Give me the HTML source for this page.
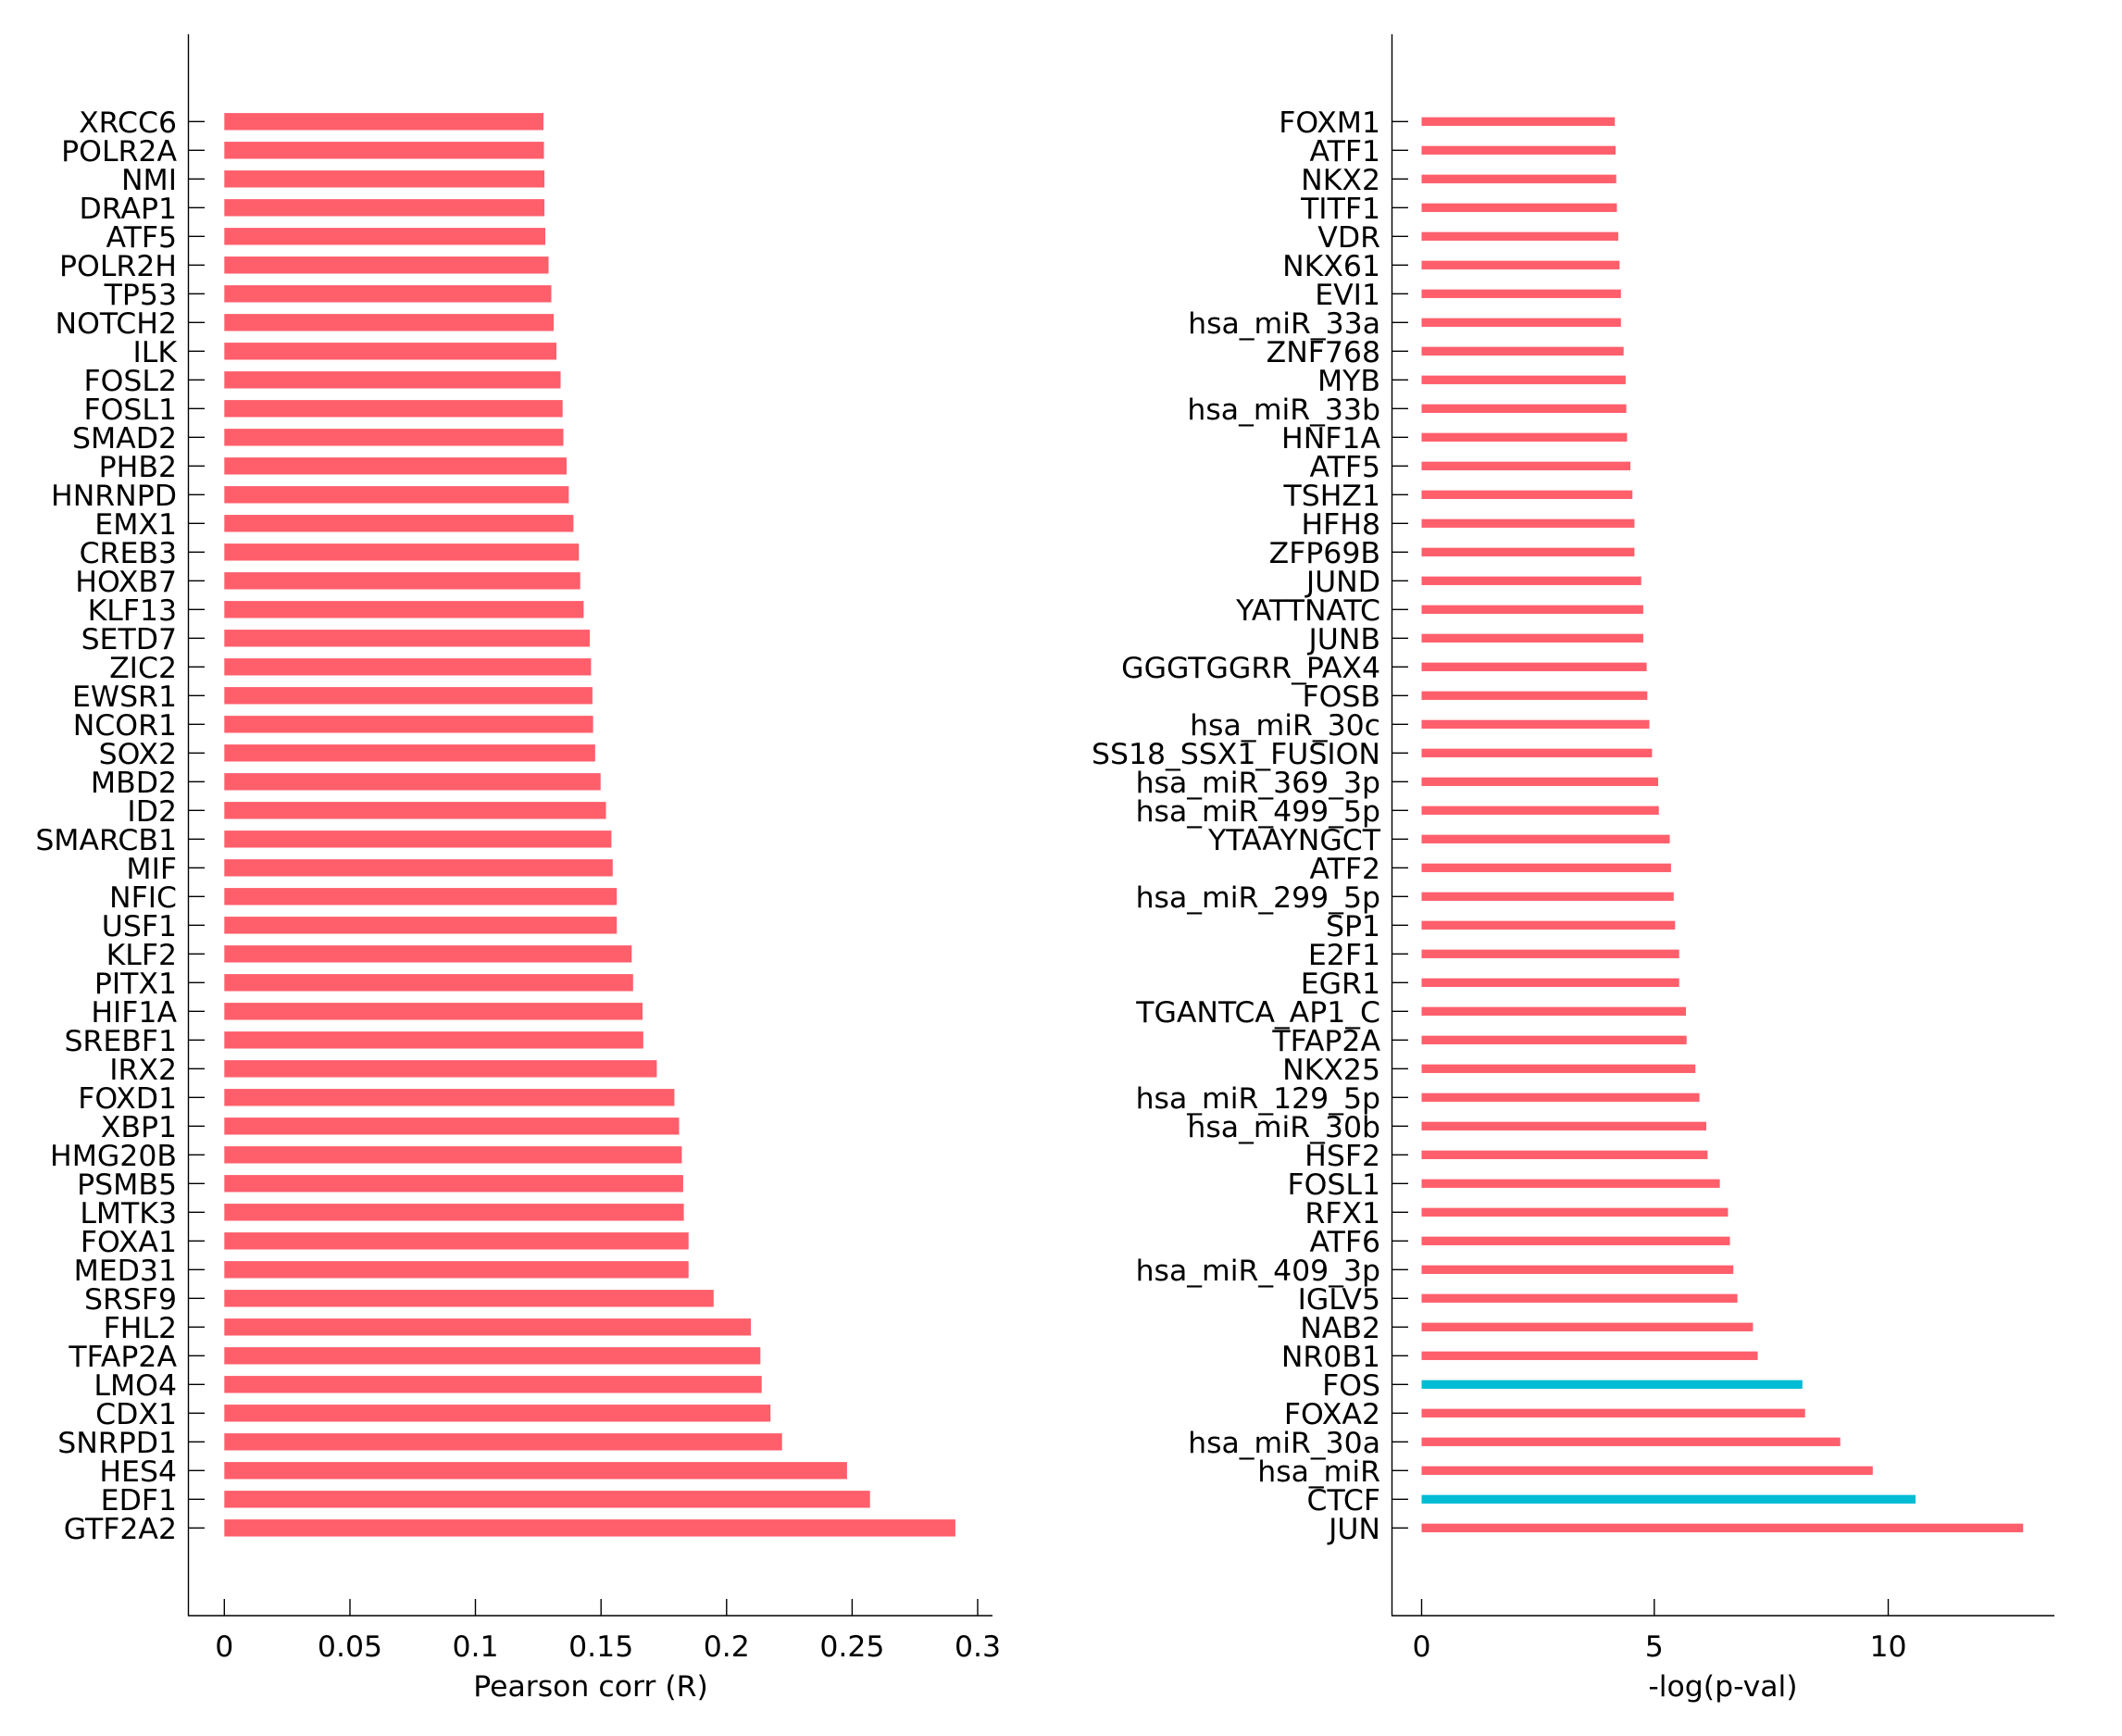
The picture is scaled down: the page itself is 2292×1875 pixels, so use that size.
<!DOCTYPE html>
<html>
<head>
<meta charset="utf-8">
<style>
html,body{margin:0;padding:0;background:#fff;}
svg{display:block;}
text{font-family:"DejaVu Sans","Liberation Sans",sans-serif;font-size:31.5px;fill:#000;}
.l text{text-anchor:end;}
.l rect{fill:#ff5e6b;}
.r text{text-anchor:end;}
.r rect{fill:#ff5e6b;}
.r rect.c{fill:#00bcd4;}
.tk{stroke:#000;stroke-width:1.4;}
</style>
</head>
<body>
<svg width="2292" height="1875" viewBox="0 0 2292 1875" xmlns="http://www.w3.org/2000/svg">
<rect width="2292" height="1875" fill="#fff"/>

<!-- LEFT PANEL axes -->
<line class="tk" x1="203.5" y1="37" x2="203.5" y2="1745.5"/>
<line class="tk" x1="203" y1="1745" x2="1072" y2="1745"/>
<g class="tk">
<line x1="242.3" y1="1727" x2="242.3" y2="1745"/>
<line x1="378" y1="1727" x2="378" y2="1745"/>
<line x1="513.5" y1="1727" x2="513.5" y2="1745"/>
<line x1="649.2" y1="1727" x2="649.2" y2="1745"/>
<line x1="784.8" y1="1727" x2="784.8" y2="1745"/>
<line x1="920.4" y1="1727" x2="920.4" y2="1745"/>
<line x1="1056" y1="1727" x2="1056" y2="1745"/>
</g>
<g style="text-anchor:middle">
<text x="242.3" y="1789" text-anchor="middle">0</text>
<text x="378" y="1789" text-anchor="middle">0.05</text>
<text x="513.5" y="1789" text-anchor="middle">0.1</text>
<text x="649.2" y="1789" text-anchor="middle">0.15</text>
<text x="784.8" y="1789" text-anchor="middle">0.2</text>
<text x="920.4" y="1789" text-anchor="middle">0.25</text>
<text x="1056" y="1789" text-anchor="middle">0.3</text>
<text x="638" y="1832" text-anchor="middle">Pearson corr (R)</text>
</g>

<g class="l">
<g transform="translate(0,131.3)"><rect x="242.3" y="-9.2" width="344.7" height="18.4"/><line class="tk" x1="203.5" x2="221" y1="0" y2="0"/><text x="191" y="11.8">XRCC6</text></g>
<g transform="translate(0,162.3)"><rect x="242.3" y="-9.2" width="345.2" height="18.4"/><line class="tk" x1="203.5" x2="221" y1="0" y2="0"/><text x="191" y="11.8">POLR2A</text></g>
<g transform="translate(0,193.3)"><rect x="242.3" y="-9.2" width="345.7" height="18.4"/><line class="tk" x1="203.5" x2="221" y1="0" y2="0"/><text x="191" y="11.8">NMI</text></g>
<g transform="translate(0,224.3)"><rect x="242.3" y="-9.2" width="345.7" height="18.4"/><line class="tk" x1="203.5" x2="221" y1="0" y2="0"/><text x="191" y="11.8">DRAP1</text></g>
<g transform="translate(0,255.3)"><rect x="242.3" y="-9.2" width="346.7" height="18.4"/><line class="tk" x1="203.5" x2="221" y1="0" y2="0"/><text x="191" y="11.8">ATF5</text></g>
<g transform="translate(0,286.3)"><rect x="242.3" y="-9.2" width="350.2" height="18.4"/><line class="tk" x1="203.5" x2="221" y1="0" y2="0"/><text x="191" y="11.8">POLR2H</text></g>
<g transform="translate(0,317.3)"><rect x="242.3" y="-9.2" width="353.2" height="18.4"/><line class="tk" x1="203.5" x2="221" y1="0" y2="0"/><text x="191" y="11.8">TP53</text></g>
<g transform="translate(0,348.3)"><rect x="242.3" y="-9.2" width="355.7" height="18.4"/><line class="tk" x1="203.5" x2="221" y1="0" y2="0"/><text x="191" y="11.8">NOTCH2</text></g>
<g transform="translate(0,379.3)"><rect x="242.3" y="-9.2" width="358.7" height="18.4"/><line class="tk" x1="203.5" x2="221" y1="0" y2="0"/><text x="191" y="11.8">ILK</text></g>
<g transform="translate(0,410.3)"><rect x="242.3" y="-9.2" width="363.2" height="18.4"/><line class="tk" x1="203.5" x2="221" y1="0" y2="0"/><text x="191" y="11.8">FOSL2</text></g>
<g transform="translate(0,441.3)"><rect x="242.3" y="-9.2" width="365.4" height="18.4"/><line class="tk" x1="203.5" x2="221" y1="0" y2="0"/><text x="191" y="11.8">FOSL1</text></g>
<g transform="translate(0,472.3)"><rect x="242.3" y="-9.2" width="366.2" height="18.4"/><line class="tk" x1="203.5" x2="221" y1="0" y2="0"/><text x="191" y="11.8">SMAD2</text></g>
<g transform="translate(0,503.3)"><rect x="242.3" y="-9.2" width="369.7" height="18.4"/><line class="tk" x1="203.5" x2="221" y1="0" y2="0"/><text x="191" y="11.8">PHB2</text></g>
<g transform="translate(0,534.3)"><rect x="242.3" y="-9.2" width="372" height="18.4"/><line class="tk" x1="203.5" x2="221" y1="0" y2="0"/><text x="191" y="11.8">HNRNPD</text></g>
<g transform="translate(0,565.3)"><rect x="242.3" y="-9.2" width="377.1" height="18.4"/><line class="tk" x1="203.5" x2="221" y1="0" y2="0"/><text x="191" y="11.8">EMX1</text></g>
<g transform="translate(0,596.3)"><rect x="242.3" y="-9.2" width="383" height="18.4"/><line class="tk" x1="203.5" x2="221" y1="0" y2="0"/><text x="191" y="11.8">CREB3</text></g>
<g transform="translate(0,627.3)"><rect x="242.3" y="-9.2" width="384.4" height="18.4"/><line class="tk" x1="203.5" x2="221" y1="0" y2="0"/><text x="191" y="11.8">HOXB7</text></g>
<g transform="translate(0,658.3)"><rect x="242.3" y="-9.2" width="388.1" height="18.4"/><line class="tk" x1="203.5" x2="221" y1="0" y2="0"/><text x="191" y="11.8">KLF13</text></g>
<g transform="translate(0,689.3)"><rect x="242.3" y="-9.2" width="394.7" height="18.4"/><line class="tk" x1="203.5" x2="221" y1="0" y2="0"/><text x="191" y="11.8">SETD7</text></g>
<g transform="translate(0,720.3)"><rect x="242.3" y="-9.2" width="396.1" height="18.4"/><line class="tk" x1="203.5" x2="221" y1="0" y2="0"/><text x="191" y="11.8">ZIC2</text></g>
<g transform="translate(0,751.3)"><rect x="242.3" y="-9.2" width="397.6" height="18.4"/><line class="tk" x1="203.5" x2="221" y1="0" y2="0"/><text x="191" y="11.8">EWSR1</text></g>
<g transform="translate(0,782.3)"><rect x="242.3" y="-9.2" width="398.3" height="18.4"/><line class="tk" x1="203.5" x2="221" y1="0" y2="0"/><text x="191" y="11.8">NCOR1</text></g>
<g transform="translate(0,813.3)"><rect x="242.3" y="-9.2" width="400.5" height="18.4"/><line class="tk" x1="203.5" x2="221" y1="0" y2="0"/><text x="191" y="11.8">SOX2</text></g>
<g transform="translate(0,844.3)"><rect x="242.3" y="-9.2" width="406.4" height="18.4"/><line class="tk" x1="203.5" x2="221" y1="0" y2="0"/><text x="191" y="11.8">MBD2</text></g>
<g transform="translate(0,875.3)"><rect x="242.3" y="-9.2" width="412.2" height="18.4"/><line class="tk" x1="203.5" x2="221" y1="0" y2="0"/><text x="191" y="11.8">ID2</text></g>
<g transform="translate(0,906.3)"><rect x="242.3" y="-9.2" width="418.1" height="18.4"/><line class="tk" x1="203.5" x2="221" y1="0" y2="0"/><text x="191" y="11.8">SMARCB1</text></g>
<g transform="translate(0,937.3)"><rect x="242.3" y="-9.2" width="419.5" height="18.4"/><line class="tk" x1="203.5" x2="221" y1="0" y2="0"/><text x="191" y="11.8">MIF</text></g>
<g transform="translate(0,968.3)"><rect x="242.3" y="-9.2" width="423.9" height="18.4"/><line class="tk" x1="203.5" x2="221" y1="0" y2="0"/><text x="191" y="11.8">NFIC</text></g>
<g transform="translate(0,999.3)"><rect x="242.3" y="-9.2" width="423.9" height="18.4"/><line class="tk" x1="203.5" x2="221" y1="0" y2="0"/><text x="191" y="11.8">USF1</text></g>
<g transform="translate(0,1030.3)"><rect x="242.3" y="-9.2" width="440" height="18.4"/><line class="tk" x1="203.5" x2="221" y1="0" y2="0"/><text x="191" y="11.8">KLF2</text></g>
<g transform="translate(0,1061.3)"><rect x="242.3" y="-9.2" width="441.5" height="18.4"/><line class="tk" x1="203.5" x2="221" y1="0" y2="0"/><text x="191" y="11.8">PITX1</text></g>
<g transform="translate(0,1092.3)"><rect x="242.3" y="-9.2" width="451.7" height="18.4"/><line class="tk" x1="203.5" x2="221" y1="0" y2="0"/><text x="191" y="11.8">HIF1A</text></g>
<g transform="translate(0,1123.3)"><rect x="242.3" y="-9.2" width="452.5" height="18.4"/><line class="tk" x1="203.5" x2="221" y1="0" y2="0"/><text x="191" y="11.8">SREBF1</text></g>
<g transform="translate(0,1154.3)"><rect x="242.3" y="-9.2" width="467.1" height="18.4"/><line class="tk" x1="203.5" x2="221" y1="0" y2="0"/><text x="191" y="11.8">IRX2</text></g>
<g transform="translate(0,1185.3)"><rect x="242.3" y="-9.2" width="486.1" height="18.4"/><line class="tk" x1="203.5" x2="221" y1="0" y2="0"/><text x="191" y="11.8">FOXD1</text></g>
<g transform="translate(0,1216.3)"><rect x="242.3" y="-9.2" width="491.2" height="18.4"/><line class="tk" x1="203.5" x2="221" y1="0" y2="0"/><text x="191" y="11.8">XBP1</text></g>
<g transform="translate(0,1247.3)"><rect x="242.3" y="-9.2" width="494.1" height="18.4"/><line class="tk" x1="203.5" x2="221" y1="0" y2="0"/><text x="191" y="11.8">HMG20B</text></g>
<g transform="translate(0,1278.3)"><rect x="242.3" y="-9.2" width="495.6" height="18.4"/><line class="tk" x1="203.5" x2="221" y1="0" y2="0"/><text x="191" y="11.8">PSMB5</text></g>
<g transform="translate(0,1309.3)"><rect x="242.3" y="-9.2" width="496.3" height="18.4"/><line class="tk" x1="203.5" x2="221" y1="0" y2="0"/><text x="191" y="11.8">LMTK3</text></g>
<g transform="translate(0,1340.3)"><rect x="242.3" y="-9.2" width="501.4" height="18.4"/><line class="tk" x1="203.5" x2="221" y1="0" y2="0"/><text x="191" y="11.8">FOXA1</text></g>
<g transform="translate(0,1371.3)"><rect x="242.3" y="-9.2" width="501.4" height="18.4"/><line class="tk" x1="203.5" x2="221" y1="0" y2="0"/><text x="191" y="11.8">MED31</text></g>
<g transform="translate(0,1402.3)"><rect x="242.3" y="-9.2" width="528.5" height="18.4"/><line class="tk" x1="203.5" x2="221" y1="0" y2="0"/><text x="191" y="11.8">SRSF9</text></g>
<g transform="translate(0,1433.3)"><rect x="242.3" y="-9.2" width="568.7" height="18.4"/><line class="tk" x1="203.5" x2="221" y1="0" y2="0"/><text x="191" y="11.8">FHL2</text></g>
<g transform="translate(0,1464.3)"><rect x="242.3" y="-9.2" width="579" height="18.4"/><line class="tk" x1="203.5" x2="221" y1="0" y2="0"/><text x="191" y="11.8">TFAP2A</text></g>
<g transform="translate(0,1495.3)"><rect x="242.3" y="-9.2" width="580.4" height="18.4"/><line class="tk" x1="203.5" x2="221" y1="0" y2="0"/><text x="191" y="11.8">LMO4</text></g>
<g transform="translate(0,1526.3)"><rect x="242.3" y="-9.2" width="589.9" height="18.4"/><line class="tk" x1="203.5" x2="221" y1="0" y2="0"/><text x="191" y="11.8">CDX1</text></g>
<g transform="translate(0,1557.3)"><rect x="242.3" y="-9.2" width="602.4" height="18.4"/><line class="tk" x1="203.5" x2="221" y1="0" y2="0"/><text x="191" y="11.8">SNRPD1</text></g>
<g transform="translate(0,1588.3)"><rect x="242.3" y="-9.2" width="672.6" height="18.4"/><line class="tk" x1="203.5" x2="221" y1="0" y2="0"/><text x="191" y="11.8">HES4</text></g>
<g transform="translate(0,1619.3)"><rect x="242.3" y="-9.2" width="697.4" height="18.4"/><line class="tk" x1="203.5" x2="221" y1="0" y2="0"/><text x="191" y="11.8">EDF1</text></g>
<g transform="translate(0,1650.3)"><rect x="242.3" y="-9.2" width="789.6" height="18.4"/><line class="tk" x1="203.5" x2="221" y1="0" y2="0"/><text x="191" y="11.8">GTF2A2</text></g>
</g>

<!-- RIGHT PANEL axes -->
<line class="tk" x1="1503.5" y1="37" x2="1503.5" y2="1745.5"/>
<line class="tk" x1="1503" y1="1745" x2="2219" y2="1745"/>
<g class="tk">
<line x1="1535.5" y1="1727" x2="1535.5" y2="1745"/>
<line x1="1786.8" y1="1727" x2="1786.8" y2="1745"/>
<line x1="2039.5" y1="1727" x2="2039.5" y2="1745"/>
</g>
<text x="1535.5" y="1789" text-anchor="middle">0</text>
<text x="1786.8" y="1789" text-anchor="middle">5</text>
<text x="2039.5" y="1789" text-anchor="middle">10</text>
<text x="1861" y="1832" text-anchor="middle">-log(p-val)</text>

<g class="r">
<g transform="translate(0,131.3)"><rect x="1535.5" y="-4.65" width="208.7" height="9.3"/><line class="tk" x1="1503.5" x2="1521" y1="0" y2="0"/><text x="1491" y="11.8">FOXM1</text></g>
<g transform="translate(0,162.3)"><rect x="1535.5" y="-4.65" width="209.5" height="9.3"/><line class="tk" x1="1503.5" x2="1521" y1="0" y2="0"/><text x="1491" y="11.8">ATF1</text></g>
<g transform="translate(0,193.3)"><rect x="1535.5" y="-4.65" width="210.2" height="9.3"/><line class="tk" x1="1503.5" x2="1521" y1="0" y2="0"/><text x="1491" y="11.8">NKX2</text></g>
<g transform="translate(0,224.3)"><rect x="1535.5" y="-4.65" width="210.9" height="9.3"/><line class="tk" x1="1503.5" x2="1521" y1="0" y2="0"/><text x="1491" y="11.8">TITF1</text></g>
<g transform="translate(0,255.3)"><rect x="1535.5" y="-4.65" width="212.4" height="9.3"/><line class="tk" x1="1503.5" x2="1521" y1="0" y2="0"/><text x="1491" y="11.8">VDR</text></g>
<g transform="translate(0,286.3)"><rect x="1535.5" y="-4.65" width="213.8" height="9.3"/><line class="tk" x1="1503.5" x2="1521" y1="0" y2="0"/><text x="1491" y="11.8">NKX61</text></g>
<g transform="translate(0,317.3)"><rect x="1535.5" y="-4.65" width="215.3" height="9.3"/><line class="tk" x1="1503.5" x2="1521" y1="0" y2="0"/><text x="1491" y="11.8">EVI1</text></g>
<g transform="translate(0,348.3)"><rect x="1535.5" y="-4.65" width="215.3" height="9.3"/><line class="tk" x1="1503.5" x2="1521" y1="0" y2="0"/><text x="1491" y="11.8">hsa_miR_33a</text></g>
<g transform="translate(0,379.3)"><rect x="1535.5" y="-4.65" width="218.2" height="9.3"/><line class="tk" x1="1503.5" x2="1521" y1="0" y2="0"/><text x="1491" y="11.8">ZNF768</text></g>
<g transform="translate(0,410.3)"><rect x="1535.5" y="-4.65" width="220.4" height="9.3"/><line class="tk" x1="1503.5" x2="1521" y1="0" y2="0"/><text x="1491" y="11.8">MYB</text></g>
<g transform="translate(0,441.3)"><rect x="1535.5" y="-4.65" width="221.1" height="9.3"/><line class="tk" x1="1503.5" x2="1521" y1="0" y2="0"/><text x="1491" y="11.8">hsa_miR_33b</text></g>
<g transform="translate(0,472.3)"><rect x="1535.5" y="-4.65" width="221.9" height="9.3"/><line class="tk" x1="1503.5" x2="1521" y1="0" y2="0"/><text x="1491" y="11.8">HNF1A</text></g>
<g transform="translate(0,503.3)"><rect x="1535.5" y="-4.65" width="225.5" height="9.3"/><line class="tk" x1="1503.5" x2="1521" y1="0" y2="0"/><text x="1491" y="11.8">ATF5</text></g>
<g transform="translate(0,534.3)"><rect x="1535.5" y="-4.65" width="227.7" height="9.3"/><line class="tk" x1="1503.5" x2="1521" y1="0" y2="0"/><text x="1491" y="11.8">TSHZ1</text></g>
<g transform="translate(0,565.3)"><rect x="1535.5" y="-4.65" width="229.9" height="9.3"/><line class="tk" x1="1503.5" x2="1521" y1="0" y2="0"/><text x="1491" y="11.8">HFH8</text></g>
<g transform="translate(0,596.3)"><rect x="1535.5" y="-4.65" width="229.9" height="9.3"/><line class="tk" x1="1503.5" x2="1521" y1="0" y2="0"/><text x="1491" y="11.8">ZFP69B</text></g>
<g transform="translate(0,627.3)"><rect x="1535.5" y="-4.65" width="237.2" height="9.3"/><line class="tk" x1="1503.5" x2="1521" y1="0" y2="0"/><text x="1491" y="11.8">JUND</text></g>
<g transform="translate(0,658.3)"><rect x="1535.5" y="-4.65" width="239.4" height="9.3"/><line class="tk" x1="1503.5" x2="1521" y1="0" y2="0"/><text x="1491" y="11.8">YATTNATC</text></g>
<g transform="translate(0,689.3)"><rect x="1535.5" y="-4.65" width="239.4" height="9.3"/><line class="tk" x1="1503.5" x2="1521" y1="0" y2="0"/><text x="1491" y="11.8">JUNB</text></g>
<g transform="translate(0,720.3)"><rect x="1535.5" y="-4.65" width="243.1" height="9.3"/><line class="tk" x1="1503.5" x2="1521" y1="0" y2="0"/><text x="1491" y="11.8">GGGTGGRR_PAX4</text></g>
<g transform="translate(0,751.3)"><rect x="1535.5" y="-4.65" width="243.8" height="9.3"/><line class="tk" x1="1503.5" x2="1521" y1="0" y2="0"/><text x="1491" y="11.8">FOSB</text></g>
<g transform="translate(0,782.3)"><rect x="1535.5" y="-4.65" width="246" height="9.3"/><line class="tk" x1="1503.5" x2="1521" y1="0" y2="0"/><text x="1491" y="11.8">hsa_miR_30c</text></g>
<g transform="translate(0,813.3)"><rect x="1535.5" y="-4.65" width="248.9" height="9.3"/><line class="tk" x1="1503.5" x2="1521" y1="0" y2="0"/><text x="1491" y="11.8">SS18_SSX1_FUSION</text></g>
<g transform="translate(0,844.3)"><rect x="1535.5" y="-4.65" width="255.5" height="9.3"/><line class="tk" x1="1503.5" x2="1521" y1="0" y2="0"/><text x="1491" y="11.8">hsa_miR_369_3p</text></g>
<g transform="translate(0,875.3)"><rect x="1535.5" y="-4.65" width="256.2" height="9.3"/><line class="tk" x1="1503.5" x2="1521" y1="0" y2="0"/><text x="1491" y="11.8">hsa_miR_499_5p</text></g>
<g transform="translate(0,906.3)"><rect x="1535.5" y="-4.65" width="268" height="9.3"/><line class="tk" x1="1503.5" x2="1521" y1="0" y2="0"/><text x="1491" y="11.8">YTAAYNGCT</text></g>
<g transform="translate(0,937.3)"><rect x="1535.5" y="-4.65" width="269.4" height="9.3"/><line class="tk" x1="1503.5" x2="1521" y1="0" y2="0"/><text x="1491" y="11.8">ATF2</text></g>
<g transform="translate(0,968.3)"><rect x="1535.5" y="-4.65" width="272.3" height="9.3"/><line class="tk" x1="1503.5" x2="1521" y1="0" y2="0"/><text x="1491" y="11.8">hsa_miR_299_5p</text></g>
<g transform="translate(0,999.3)"><rect x="1535.5" y="-4.65" width="273.8" height="9.3"/><line class="tk" x1="1503.5" x2="1521" y1="0" y2="0"/><text x="1491" y="11.8">SP1</text></g>
<g transform="translate(0,1030.3)"><rect x="1535.5" y="-4.65" width="278.2" height="9.3"/><line class="tk" x1="1503.5" x2="1521" y1="0" y2="0"/><text x="1491" y="11.8">E2F1</text></g>
<g transform="translate(0,1061.3)"><rect x="1535.5" y="-4.65" width="278.2" height="9.3"/><line class="tk" x1="1503.5" x2="1521" y1="0" y2="0"/><text x="1491" y="11.8">EGR1</text></g>
<g transform="translate(0,1092.3)"><rect x="1535.5" y="-4.65" width="285.5" height="9.3"/><line class="tk" x1="1503.5" x2="1521" y1="0" y2="0"/><text x="1491" y="11.8">TGANTCA_AP1_C</text></g>
<g transform="translate(0,1123.3)"><rect x="1535.5" y="-4.65" width="286.2" height="9.3"/><line class="tk" x1="1503.5" x2="1521" y1="0" y2="0"/><text x="1491" y="11.8">TFAP2A</text></g>
<g transform="translate(0,1154.3)"><rect x="1535.5" y="-4.65" width="295.7" height="9.3"/><line class="tk" x1="1503.5" x2="1521" y1="0" y2="0"/><text x="1491" y="11.8">NKX25</text></g>
<g transform="translate(0,1185.3)"><rect x="1535.5" y="-4.65" width="300.1" height="9.3"/><line class="tk" x1="1503.5" x2="1521" y1="0" y2="0"/><text x="1491" y="11.8">hsa_miR_129_5p</text></g>
<g transform="translate(0,1216.3)"><rect x="1535.5" y="-4.65" width="307.5" height="9.3"/><line class="tk" x1="1503.5" x2="1521" y1="0" y2="0"/><text x="1491" y="11.8">hsa_miR_30b</text></g>
<g transform="translate(0,1247.3)"><rect x="1535.5" y="-4.65" width="308.9" height="9.3"/><line class="tk" x1="1503.5" x2="1521" y1="0" y2="0"/><text x="1491" y="11.8">HSF2</text></g>
<g transform="translate(0,1278.3)"><rect x="1535.5" y="-4.65" width="322.1" height="9.3"/><line class="tk" x1="1503.5" x2="1521" y1="0" y2="0"/><text x="1491" y="11.8">FOSL1</text></g>
<g transform="translate(0,1309.3)"><rect x="1535.5" y="-4.65" width="330.9" height="9.3"/><line class="tk" x1="1503.5" x2="1521" y1="0" y2="0"/><text x="1491" y="11.8">RFX1</text></g>
<g transform="translate(0,1340.3)"><rect x="1535.5" y="-4.65" width="333" height="9.3"/><line class="tk" x1="1503.5" x2="1521" y1="0" y2="0"/><text x="1491" y="11.8">ATF6</text></g>
<g transform="translate(0,1371.3)"><rect x="1535.5" y="-4.65" width="336.7" height="9.3"/><line class="tk" x1="1503.5" x2="1521" y1="0" y2="0"/><text x="1491" y="11.8">hsa_miR_409_3p</text></g>
<g transform="translate(0,1402.3)"><rect x="1535.5" y="-4.65" width="341.1" height="9.3"/><line class="tk" x1="1503.5" x2="1521" y1="0" y2="0"/><text x="1491" y="11.8">IGLV5</text></g>
<g transform="translate(0,1433.3)"><rect x="1535.5" y="-4.65" width="357.9" height="9.3"/><line class="tk" x1="1503.5" x2="1521" y1="0" y2="0"/><text x="1491" y="11.8">NAB2</text></g>
<g transform="translate(0,1464.3)"><rect x="1535.5" y="-4.65" width="363" height="9.3"/><line class="tk" x1="1503.5" x2="1521" y1="0" y2="0"/><text x="1491" y="11.8">NR0B1</text></g>
<g transform="translate(0,1495.3)"><rect class="c" x="1535.5" y="-4.65" width="411.3" height="9.3"/><line class="tk" x1="1503.5" x2="1521" y1="0" y2="0"/><text x="1491" y="11.8">FOS</text></g>
<g transform="translate(0,1526.3)"><rect x="1535.5" y="-4.65" width="414.2" height="9.3"/><line class="tk" x1="1503.5" x2="1521" y1="0" y2="0"/><text x="1491" y="11.8">FOXA2</text></g>
<g transform="translate(0,1557.3)"><rect x="1535.5" y="-4.65" width="452.2" height="9.3"/><line class="tk" x1="1503.5" x2="1521" y1="0" y2="0"/><text x="1491" y="11.8">hsa_miR_30a</text></g>
<g transform="translate(0,1588.3)"><rect x="1535.5" y="-4.65" width="487.3" height="9.3"/><line class="tk" x1="1503.5" x2="1521" y1="0" y2="0"/><text x="1491" y="11.8">hsa_miR</text></g>
<g transform="translate(0,1619.3)"><rect class="c" x="1535.5" y="-4.65" width="533.5" height="9.3"/><line class="tk" x1="1503.5" x2="1521" y1="0" y2="0"/><text x="1491" y="11.8">CTCF</text></g>
<g transform="translate(0,1650.3)"><rect x="1535.5" y="-4.65" width="649.7" height="9.3"/><line class="tk" x1="1503.5" x2="1521" y1="0" y2="0"/><text x="1491" y="11.8">JUN</text></g>
</g>
</svg>
</body>
</html>
